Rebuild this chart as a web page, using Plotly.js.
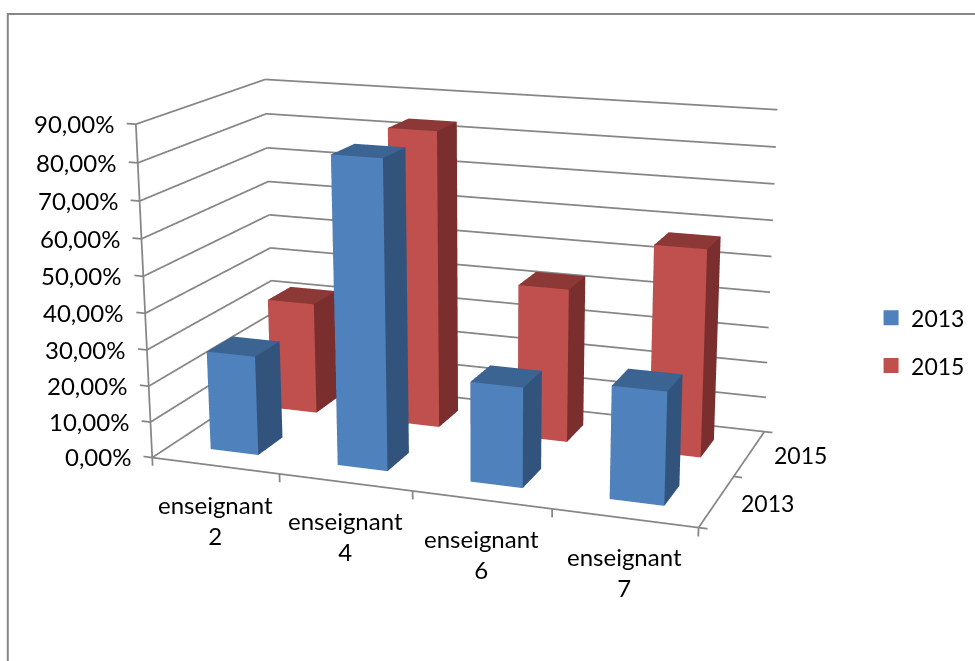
<!DOCTYPE html>
<html>
<head>
<meta charset="utf-8">
<script src="https://cdn.plot.ly/plotly-3.0.1.min.js"></script>
<style>html,body{margin:0;padding:0;background:#fff;overflow:hidden}#chart{width:975px;height:661px}</style>
</head>
<body>
<div id="chart"></div>
<script>
// Share of each teacher, in percent, by survey year
const categories = ['enseignant<br>2', 'enseignant<br>4', 'enseignant<br>6', 'enseignant<br>7'];
const seriesNames = ['2013', '2015'];
const values2013 = [27.5, 83.3, 27, 30];
const values2015 = [32, 83.5, 43, 57.2];
const percentTicks = [0, 10, 20, 30, 40, 50, 60, 70, 80, 90];
const tickLabels = ['0,00%', '10,00%', '20,00%', '30,00%', '40,00%', '50,00%', '60,00%', '70,00%', '80,00%', '90,00%'];

const GRID = '#868686';
const FONT = {family: 'Lato, "Open Sans", sans-serif', size: 23, color: '#000'};
const LARGE_FONT = Object.assign({}, FONT, {size: 24});
const BLUE = {front: '#4F81BD', side: '#32537C', top: '#3C6492'};
const RED = {front: '#C0504D', side: '#7A2F2E', top: '#8C3836'};
const HALF_BAR_X = 0.19, HALF_BAR_Y = 0.2;
const nx = categories.length, ny = seriesNames.length, zMax = 90;

// One closed box per value, with separate flat colours for the three visible sides
function barMesh(values, row, name, shade) {
  const x = [], y = [], z = [], i = [], j = [], k = [], facecolor = [];
  values.forEach((v, c) => {
    const x0 = c + 0.5 - HALF_BAR_X, x1 = c + 0.5 + HALF_BAR_X;
    const y0 = row + 0.5 - HALF_BAR_Y, y1 = row + 0.5 + HALF_BAR_Y;
    const b = x.length;
    [[x0,y0,0],[x1,y0,0],[x1,y1,0],[x0,y1,0],[x0,y0,v],[x1,y0,v],[x1,y1,v],[x0,y1,v]]
      .forEach(p => { x.push(p[0]); y.push(p[1]); z.push(p[2]); });
    const quad = (a, e, f, g, col) => {
      i.push(b+a, b+a); j.push(b+e, b+f); k.push(b+f, b+g); facecolor.push(col, col);
    };
    quad(0, 1, 5, 4, shade.front);
    quad(1, 2, 6, 5, shade.side);
    quad(4, 5, 6, 7, shade.top);
    quad(3, 2, 6, 7, shade.side);
    quad(0, 3, 7, 4, shade.side);
  });
  return {
    type: 'mesh3d', name, x, y, z, i, j, k, facecolor, flatshading: true,
    showlegend: false, hoverinfo: 'skip', showscale: false,
    color: shade.front,
    lighting: {ambient: 1, diffuse: 0, specular: 0, roughness: 1, fresnel: 0}
  };
}

// Square swatch shown in the legend for a series
function legendKey(name, color) {
  return {
    type: 'scatter3d', mode: 'markers', name, x: [null], y: [null], z: [null],
    marker: {symbol: 'square', size: 15, color, line: {width: 0}},
    showlegend: true, legendgroup: name, hoverinfo: 'skip'
  };
}

// Walls, floor edges and tick marks as broken polylines
const wx = [], wy = [], wz = [];
const seg = (a, b) => { wx.push(a[0], b[0], null); wy.push(a[1], b[1], null); wz.push(a[2], b[2], null); };
percentTicks.forEach(t => {
  seg([-0.07, 0, t], [0, 0, t]);
  seg([0, 0, t], [0, ny, t]);
  seg([0, ny, t], [nx, ny, t]);
});
seg([0, 0, 0], [0, 0, zMax]);
seg([0, 0, 0], [nx, 0, 0]);
seg([nx, 0, 0], [nx, ny, 0]);
for (let c = 0; c <= nx; c++) seg([c, 0, 0], [c, 0, -2.3]);
for (let s = 0; s <= ny; s++) seg([nx, s, 0], [nx + 0.06, s, 0]);

const frame = {
  type: 'scatter3d', mode: 'lines', x: wx, y: wy, z: wz, connectgaps: false,
  line: {color: GRID, width: 3.5}, showlegend: false, hoverinfo: 'skip'
};

const annotations = [];
percentTicks.forEach((t, n) => annotations.push({
  x: -0.07, y: 0, z: t, text: tickLabels[n], showarrow: false, xanchor: 'right', yanchor: 'middle', xshift: -11, font: LARGE_FONT
}));
categories.forEach((c, n) => annotations.push({
  x: n + 0.5, y: 0, z: 0, text: c, showarrow: false, xanchor: 'center', yanchor: 'top', yshift: -22, font: LARGE_FONT
}));
seriesNames.forEach((s, n) => annotations.push({
  x: nx, y: n + 0.5, z: 0, text: s, showarrow: false, xanchor: 'left', yanchor: 'middle', xshift: 22, yshift: -2, font: FONT
}));

const noAxis = {visible: false, showspikes: false, showbackground: false, showgrid: false, zeroline: false, autorange: false};

const layout = {
  width: 975, height: 661,
  margin: {l: 0, r: 0, t: 0, b: 0},
  paper_bgcolor: '#fff',
  showlegend: true,
  legend: {x: 0.8934, y: 0.483, xanchor: 'left', yanchor: 'middle', font: FONT, tracegroupgap: 15, bgcolor: 'rgba(0,0,0,0)'},
  scene: {
    domain: {x: [0, 1], y: [0, 1]},
    xaxis: Object.assign({}, noAxis, {range: [-0.2, 4.2]}),
    yaxis: Object.assign({}, noAxis, {range: [-0.2, 2.2]}),
    zaxis: Object.assign({}, noAxis, {range: [-5, 95]}),
    aspectmode: 'manual',
    aspectratio: {x: 2.29, y: 1.265, z: 1.393},
    camera: {
      projection: {type: 'perspective'},
      up: {x: 0, y: 0, z: 1},
      center: {x: 0.096, y: -0.004, z: -0.167},
      eye: {x: 2.511, y: -6.786, z: 1.925}
    },
    annotations
  },
  shapes: [{
    type: 'path', xref: 'paper', yref: 'paper',
    path: 'M 0.008 0 L 0.008 0.979 L 1 0.979',
    line: {color: '#868686', width: 2}
  }]
};

const gd = document.getElementById('chart');
Plotly.newPlot(gd, [
  frame,
  barMesh(values2013, 0, seriesNames[0], BLUE),
  barMesh(values2015, 1, seriesNames[1], RED),
  legendKey(seriesNames[0], BLUE.front),
  legendKey(seriesNames[1], RED.front)
], layout, {displayModeBar: false}).then(() => {
  // Narrow the lens so that the depth convergence stays gentle
  const gl = gd._fullLayout.scene._scene.glplot;
  gl.fovy = 0.324;
  gl.redraw();
});
</script>
</body>
</html>
